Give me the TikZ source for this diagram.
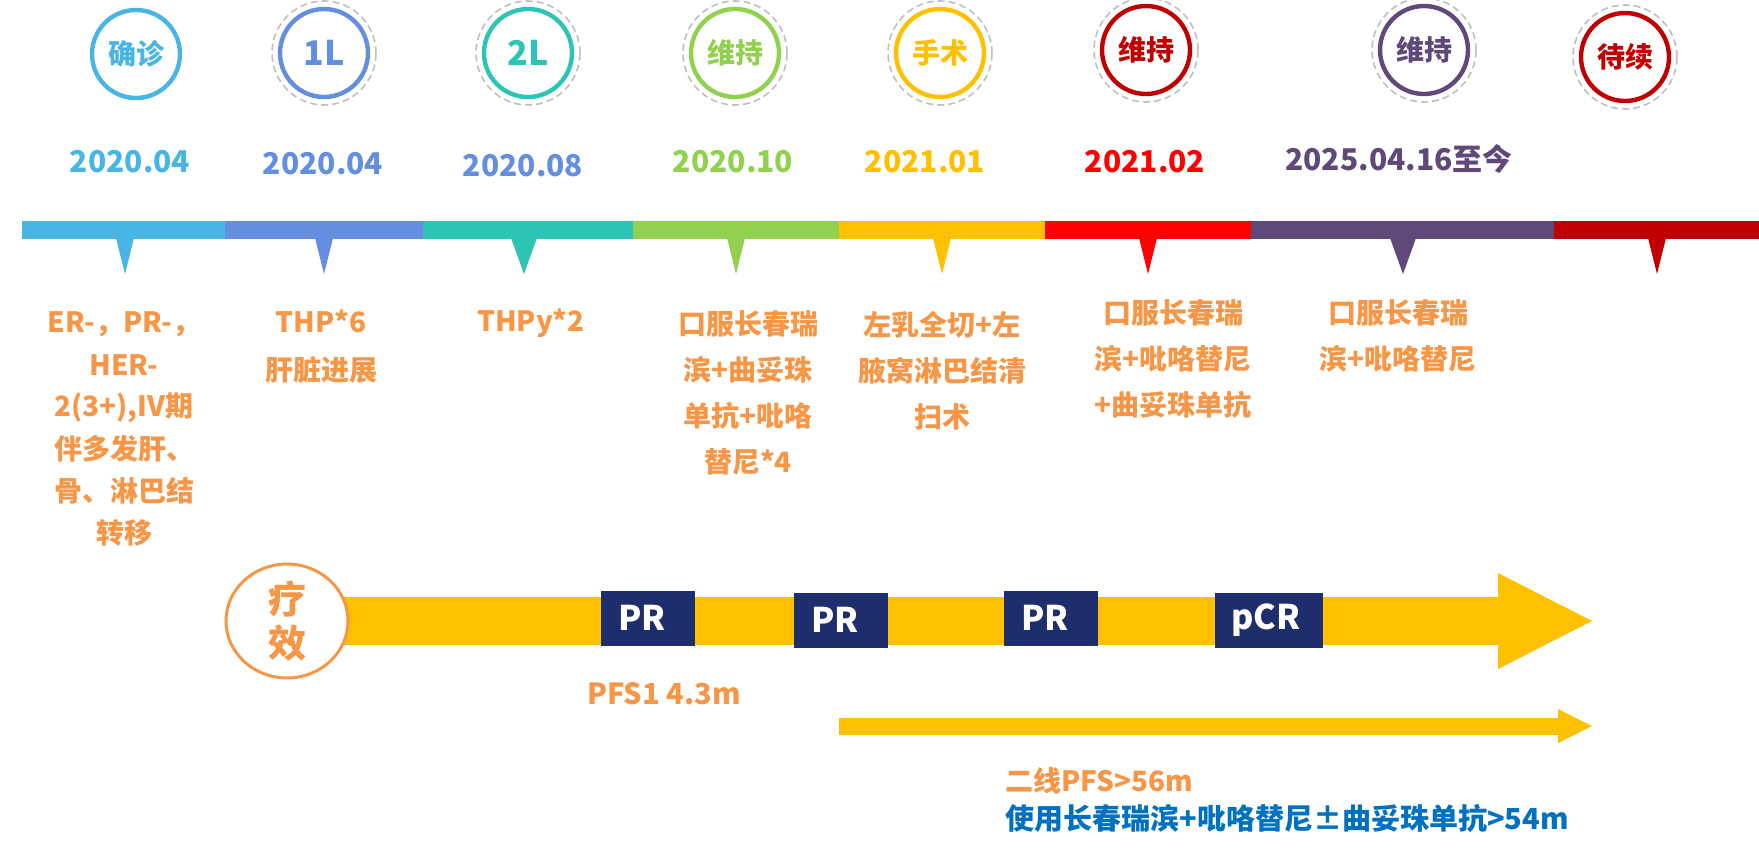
\documentclass[tikz,border=0pt]{standalone}
\usepackage{fontspec}
\setmainfont{Noto Sans CJK SC}
\usetikzlibrary{arrows.meta,shapes.geometric,backgrounds}

\definecolor{skyblue}{RGB}{72,181,229}
\definecolor{cornblue}{RGB}{100,143,224}
\definecolor{teal2}{RGB}{44,196,180}
\definecolor{leaf}{RGB}{146,208,80}
\definecolor{gold}{RGB}{255,192,0}
\definecolor{brightred}{RGB}{255,0,0}
\definecolor{plum}{RGB}{95,73,122}
\definecolor{darkred}{RGB}{192,0,0}
\definecolor{peach}{RGB}{247,150,70}
\definecolor{navy}{RGB}{30,45,107}
\definecolor{ocean}{RGB}{0,112,192}

\newcommand{\fs}[2]{\fontsize{#1}{#2}\selectfont\bfseries}

\begin{document}
\begin{tikzpicture}[x=0.5pt,y=-0.5pt,
  stage/.style={circle,line width=2.2pt,minimum size=44pt,inner sep=0pt,font=\fs{14pt}{14pt}},
  ring/.style={circle,draw=black!25,line width=0.8pt,dash pattern=on 3.5pt off 2pt,minimum size=52pt,inner sep=0pt},
  date/.style={font=\fs{15pt}{15pt}},
  note/.style={text=peach,align=center,font=\fs{14pt}{23pt}},
  result/.style={fill=navy,text=white,minimum width=47pt,minimum height=27.5pt,inner sep=0pt,text width=30pt,align=left,font=\fs{17pt}{17pt}}]
        \useasboundingbox (0,0) rectangle (1759,852);

        \foreach \xa/\xb/\c in {22/225/skyblue,225/423/cornblue,423/633/teal2,633/839/leaf,839/1045/gold,1045/1251/brightred,1251/1554/plum,1554/1759/darkred} {
          \fill[\c] (\xa,221) rectangle (\xb,239);
        }
        \foreach \x/\w/\c in {125/9/skyblue,324/9/cornblue,524/13/teal2,736/9/leaf,942/9/gold,1148/9/brightred,1403/13/plum,1657/9/darkred} {
          \fill[\c] ({\x-\w},238) -- ({\x+\w},238) -- (\x,274) -- cycle;
        }

        \foreach[count=\i] \x/\y/\c/\txt in {136/54/skyblue/确诊,324/53/cornblue/{\fs{17pt}{17pt}1L},528/53/teal2/{\fs{17pt}{17pt}2L},735/53/leaf/维持,940/53/gold/手术,1146/50/darkred/维持,1424/50/plum/维持,1625/57/darkred/待续} {
          \node[stage,draw=\c,text=\c] (s\i) at (\x,\y) {\txt};
        }
        \foreach \i in {2,...,8} {
          \node[ring] (r\i) at (s\i) {};
        }

        \foreach[count=\i] \x/\y/\c/\txt in {130/162/skyblue/2020.04,323/164/cornblue/2020.04,523/166/cornblue/2020.08,733/162/leaf/2020.10,925/162/gold/2021.01,1145/162/brightred/2021.02,1399/159/plum/2025.04.16至今} {
          \node[date,text=\c] (d\i) at (\x,\y) {\txt};
        }

        \node[note,font=\fs{14pt}{21pt}] (t1) at (124,429) {ER-，PR-，\\HER-\\2(3+),IV期\\伴多发肝、\\骨、淋巴结\\转移};
        \node[note,font=\fs{14pt}{24pt}] (t2) at (321,347) {THP*6\\肝脏进展};
        \node[note] (t3) at (531,323) {THPy*2};
        \node[note] (t4) at (748,393) {口服长春瑞\\滨+曲妥珠\\单抗+吡咯\\替尼*4};
        \node[note] (t5) at (942,371) {左乳全切+左\\腋窝淋巴结清\\扫术};
        \node[note] (t6) at (1173,359) {口服长春瑞\\滨+吡咯替尼\\+曲妥珠单抗};
        \node[note] (t7) at (1398,336) {口服长春瑞\\滨+吡咯替尼};

        \node[ellipse,draw=peach,line width=1.5pt,fill=white,minimum width=61pt,minimum height=50pt,inner sep=0pt,text=peach,align=center,font=\fs{19pt}{22pt}] (effect) at (287,621) {疗\\效};
        \coordinate (bigtip) at (1592,621);
        \begin{scope}[on background layer]
          \draw[gold,line width=24pt,-{Triangle[length=47pt,width=48pt,line width=0pt]}] (effect.center) -- (bigtip);
        \end{scope}
        \node[result] (pr1) at (648,618) {PR};
        \node[result] (pr2) at (841,620) {PR};
        \node[result] (pr3) at (1051,618) {PR};
        \node[result,minimum width=54pt,text width=38pt] (pr4) at (1269,620) {pCR};
        \node[text=peach,font=\fs{14.5pt}{14.5pt}] (pfs1) at (664,694) {PFS1 4.3m};

        \coordinate (linestart) at (839,726);
        \coordinate (linetip) at (1592,726);
        \draw[gold,line width=8.5pt,-{Triangle[length=17pt,width=17pt,line width=0pt]}] (linestart) -- (linetip);
        \node[anchor=west,inner xsep=0pt,text=peach,font=\fs{14pt}{14pt}] (pfs2) at (1005,781) {二线PFS>56m};
        \node[anchor=west,inner xsep=0pt,text=ocean,font=\fs{14.5pt}{14.5pt}] (usage) at (1005,818) {使用长春瑞滨+吡咯替尼±曲妥珠单抗>54m};
      \end{tikzpicture}
\end{document}
